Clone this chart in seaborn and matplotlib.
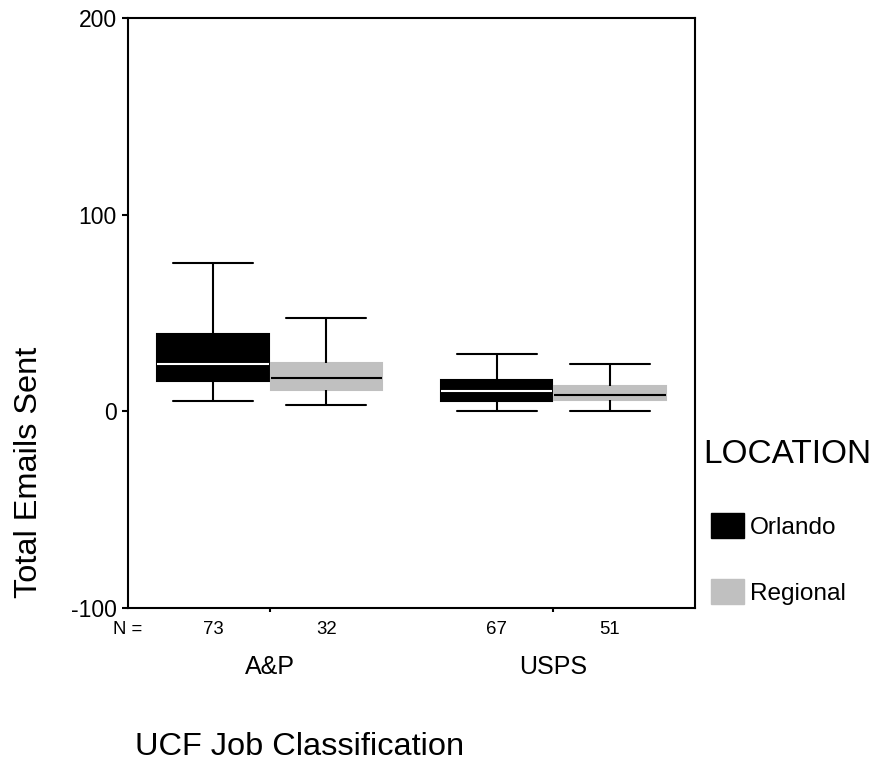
import matplotlib
matplotlib.use("Agg")
import matplotlib.pyplot as plt
import matplotlib.transforms as mtransforms
from matplotlib.patches import Patch
import seaborn as sb
import pandas as pd
import numpy as np

# values: (low whisker, Q1, median, Q3, high whisker)
groups = ["A&P", "USPS"]
locations = ["Orlando", "Regional"]
ap_orlando = [5.1, 15.3, 23.9, 39.5, 75.2]
ap_regional = [3.1, 11.0, 17.0, 24.6, 47.7]
usps_orlando = [0.0, 5.4, 10.3, 16.1, 29.4]
usps_regional = [0.0, 5.6, 8.5, 12.9, 24.3]
n_counts = [73, 32, 67, 51]
colors = {"Orlando": "black", "Regional": "#c0c0c0"}

sb.set_theme(style="ticks")
plt.rcParams["font.family"] = ["Liberation Sans", "DejaVu Sans"]
plt.rcParams["axes.unicode_minus"] = False
plt.rcParams["text.color"] = "black"

rows = []
for grp, loc, vals in [("A&P", "Orlando", ap_orlando), ("A&P", "Regional", ap_regional),
                       ("USPS", "Orlando", usps_orlando), ("USPS", "Regional", usps_regional)]:
    for v in vals:
        rows.append({"job": grp, "location": loc, "emails": v})
df = pd.DataFrame(rows)

W, H = 877, 761
fig = plt.figure(figsize=(W / 100, H / 100), dpi=100)
ax = fig.add_axes([128 / W, 1 - 608 / H, (695 - 128) / W, (608 - 18) / H])

width, gap = 0.8, 0.02
sb.boxplot(data=df, x="job", y="emails", hue="location", order=groups, hue_order=locations,
           palette=colors, saturation=1, width=width, gap=gap, whis=np.inf,
           linecolor="black", linewidth=1.5, legend=False, ax=ax)

box_w = width / 2 * (1 - gap)
for p in ax.patches:
    fc = p.get_facecolor()
    if fc[0] > 0.5:
        p.set_edgecolor(fc)
for ln in ax.lines:
    x = np.asarray(ln.get_xdata(), dtype=float)
    y = np.asarray(ln.get_ydata(), dtype=float)
    if len(x) != 2 or y[0] != y[1]:
        continue
    cx = x.mean()
    orlando = (cx - round(cx)) < 0
    if (x.max() - x.min()) > box_w * 0.9:
        ln.set_color("white" if orlando else "black")
        ln.set_linewidth(1.5)
    else:
        half = box_w * 0.72 / 2
        ln.set_xdata([cx - half, cx + half])

ax.set_xlim(-0.5, 1.5)
ax.set_ylim(-100, 200)
ax.set_yticks([-100, 0, 100, 200])
ax.set_xlabel("")
ax.set_ylabel("")
for s in ax.spines.values():
    s.set_visible(True)
    s.set_linewidth(1.5)
    s.set_color("black")
ax.tick_params(axis="y", length=4.5, width=1.5, pad=3.5, labelsize=16.5, colors="black")
ax.tick_params(axis="x", length=3, width=1.5, pad=31, labelsize=18, colors="black")

# N counts under each box
trans = mtransforms.blended_transform_factory(ax.transData, ax.transAxes)
k = 0
for i, grp in enumerate(groups):
    for j, loc in enumerate(locations):
        ax.text(i + (j - 0.5) * width / 2, -0.037, str(n_counts[k]), transform=trans,
                ha="center", va="center", fontsize=13.4)
        k += 1
fig.text(127.5 / W, 1 - 630 / H, "N =", ha="center", va="center", fontsize=13.4)

fig.text(37 / W, 1 - 472.5 / H, "Total Emails Sent", rotation=90, rotation_mode="anchor",
         ha="center", va="baseline", fontsize=23.4)
fig.text(135 / W, 1 - 755 / H, "UCF Job Classification", ha="left", va="baseline", fontsize=23.4)

# legend
fig.text(703 / W, 1 - 463 / H, "LOCATION", ha="left", va="baseline", fontsize=24)
handles = [Patch(facecolor=colors[l], edgecolor=colors[l]) for l in locations]
leg = ax.legend(handles, locations, loc="upper left",
                bbox_to_anchor=(711 / W, 1 - 513 / H), bbox_transform=fig.transFigure,
                frameon=False, fontsize=17.6, borderpad=0,
                handlelength=1.35, handleheight=1.2, handletextpad=0.25,
                labelspacing=1.65, borderaxespad=0)
for t in leg.get_texts():
    t.set_color("black")

fig.savefig("out.png", dpi=100)
